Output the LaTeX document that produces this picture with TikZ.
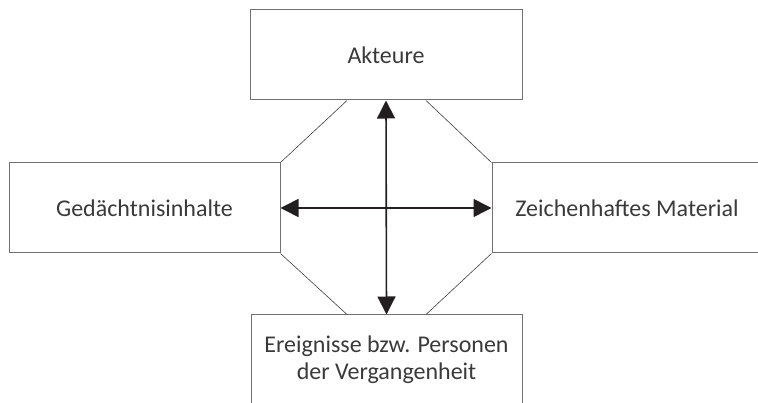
\documentclass[tikz,border=0pt]{standalone}
\usepackage{fontspec}
\setmainfont{Carlito}
\usetikzlibrary{arrows.meta,calc}
\definecolor{boxline}{HTML}{707070}
\definecolor{txt}{HTML}{3A3A3A}
\definecolor{diag}{HTML}{404040}
\definecolor{arrc}{HTML}{231F20}
\begin{document}
\begin{tikzpicture}[x=1pt,y=-1pt,
  box/.style={draw=boxline,line width=1pt,fill=white,text=txt,inner sep=0pt,align=center,
    font=\fontsize{24}{27}\selectfont},
  diagline/.style={draw=diag,line width=0.6pt},
  arr/.style={draw=arrc,line width=1.6pt,{Triangle[length=18pt,width=18pt]}-{Triangle[length=18pt,width=18pt]},fill=arrc}]
\useasboundingbox (0,0) rectangle (758,403);
\clip (0,0) rectangle (758,403);
\node[box,minimum width=272pt,minimum height=90pt] (top) at (386,55) {Akteure};
\node[box,minimum width=271pt,minimum height=90pt] (left) at (144.5,208) {Gedächtnisinhalte};
\node[box,minimum width=270pt,minimum height=90pt] (right) at (627,208) {Zeichenhaftes Material};
\node[box,minimum width=271pt,minimum height=90pt] (bottom) at (386.5,360) {Ereignisse bzw. Personen\\der Vergangenheit};
\draw[diagline] ([xshift=-39pt]top.south) -- (left.north east);
\draw[diagline] ([xshift=40pt]top.south) -- (right.north west);
\draw[diagline] ([xshift=-39.5pt]bottom.north) -- (left.south east);
\draw[diagline] ([xshift=39.5pt]bottom.north) -- (right.south west);
\draw[arr] (top.south) -- (bottom.north);
\draw[arr] (left.east) -- (right.west);
\end{tikzpicture}
\end{document}
